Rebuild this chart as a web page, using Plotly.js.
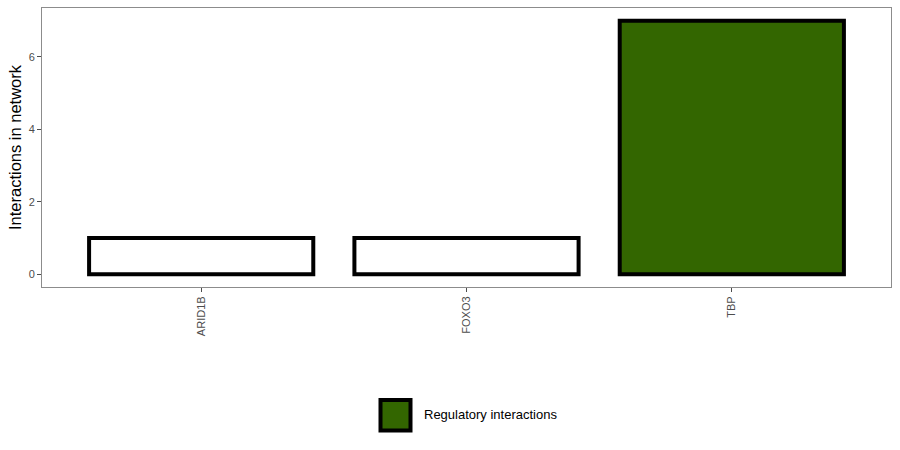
<!DOCTYPE html>
<html>
<head>
<meta charset="utf-8">
<script src="https://cdn.plot.ly/plotly-3.0.1.min.js"></script>
<style>html,body{margin:0;padding:0;background:#fff;}#chart{width:900px;height:450px;}</style>
</head>
<body>
<div id="chart"></div>
<script>
const genes = ["ARID1B", "FOXO3", "TBP"];
const interactions = [1, 1, 7];
const regulatory = [false, false, true];
const legendLabel = "Regulatory interactions";

const GREEN = "#336600";
const fills = regulatory.map(r => r ? GREEN : "#ffffff");

const trace = {
  type: "bar",
  x: genes,
  y: interactions,
  width: 0.845,
  marker: {color: fills, line: {color: "#000000", width: 4}},
  showlegend: false,
  hoverinfo: "x+y"
};

const layout = {
  width: 900, height: 450,
  margin: {l: 42, r: 9, t: 8, b: 163},
  paper_bgcolor: "#ffffff",
  plot_bgcolor: "#ffffff",
  showlegend: false,
  font: {family: "Liberation Sans, Arial, sans-serif"},
  xaxis: {
    type: "category",
    range: [-0.6, 2.6],
    showgrid: false, zeroline: false,
    showline: true, mirror: true, linecolor: "#8c8c8c", linewidth: 1,
    ticks: "outside", ticklen: 4, tickcolor: "#4d4d4d", tickwidth: 1,
    tickangle: -90,
    tickfont: {size: 11, color: "#4d4d4d"},
    automargin: false
  },
  yaxis: {
    range: [-0.35, 7.35],
    tickvals: [0, 2, 4, 6],
    showgrid: false, zeroline: false,
    showline: true, mirror: true, linecolor: "#8c8c8c", linewidth: 1,
    ticks: "outside", ticklen: 4, tickcolor: "#4d4d4d", tickwidth: 1,
    tickfont: {size: 11, color: "#4d4d4d"},
    title: {text: "Interactions in network", font: {size: 16.5, color: "#000000"}, standoff: 2},
    automargin: false
  },
  shapes: [{
    type: "rect", xref: "paper", yref: "paper",
    x0: (380.5 - 42) / 849, x1: (410.5 - 42) / 849,
    y0: (287 - 430.5) / 279, y1: (287 - 400) / 279,
    fillcolor: GREEN, line: {color: "#000000", width: 4}
  }],
  annotations: [{
    xref: "paper", yref: "paper",
    x: (422 - 42) / 849, y: (287 - 415) / 279,
    xanchor: "left", yanchor: "middle",
    text: legendLabel, showarrow: false,
    font: {size: 13, color: "#000000"}
  }]
};

Plotly.newPlot("chart", [trace], layout, {displayModeBar: false, staticPlot: true});
</script>
</body>
</html>
